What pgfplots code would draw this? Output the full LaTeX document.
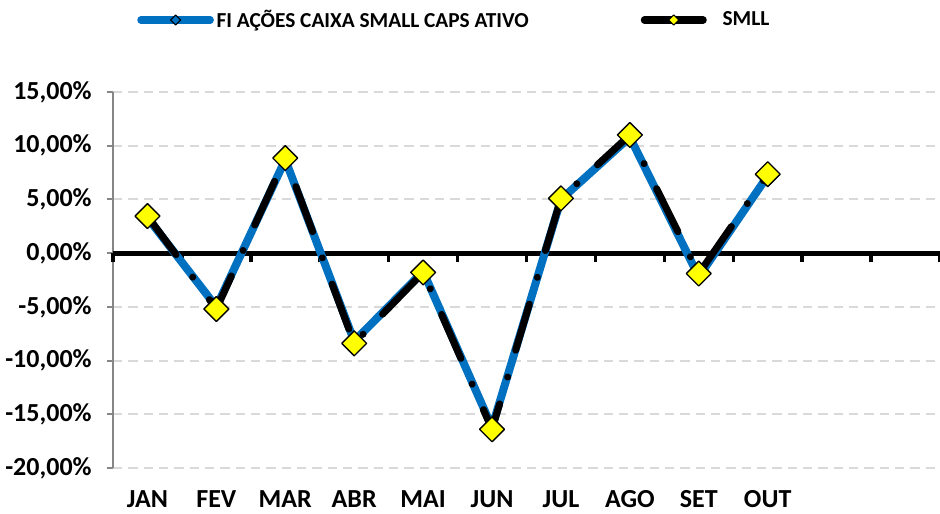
\documentclass[border=0pt]{standalone}
\usepackage{pgfplots}
\pgfplotsset{compat=1.18}
\usepackage{fontspec}
\setmainfont{Carlito}
\definecolor{fundblue}{RGB}{0,112,192}
\definecolor{gridgray}{RGB}{217,217,217}
\definecolor{axgray}{RGB}{134,134,134}
\definecolor{mkyellow}{RGB}{255,255,0}

\begin{document}
\begin{tikzpicture}
\begin{axis}[
  at={(0,0)}, anchor=south west,
  scale only axis, width=620.25pt, height=282pt,
  xmin=-0.5, xmax=11.5, ymin=-20, ymax=15,
  axis y line*=left, axis x line*=bottom,
  x axis line style={draw=none},
  xtick={0,...,9},
  xticklabels={JAN,FEV,MAR,ABR,MAI,JUN,JUL,AGO,SET,OUT},
  x tick style={draw=none},
  xticklabel style={inner sep=0pt, yshift=-12.5pt},
  ytick={-20,-15,...,15},
  yticklabels={{-20,00\%},{-15,00\%},{-10,00\%},{-5,00\%},{0,00\%},{5,00\%},{10,00\%},{15,00\%}},
  yticklabel style={xshift=-8pt},
  ymajorgrids,
  grid style={gridgray, line width=1.5pt, dash pattern=on 7pt off 4.5pt},
  y axis line style={axgray, line width=1.5pt},
  y tick style={axgray, line width=1.5pt},
  tick align=outside, major tick length=4.5pt,
  tick label style={font=\fontsize{19.5}{22}\selectfont\bfseries},
  clip=false,
  legend columns=2,
  legend style={at={(0.029,1.1915)}, anchor=west, draw=none, fill=none,
    inner sep=0pt, font=\fontsize{16}{19}\selectfont\bfseries,
    /tikz/every even column/.append style={column sep=82pt}},
]
% zero line and its ticks
\addplot[black, line width=3.75pt, forget plot] coordinates {(-0.5,0) (11.5,0)};
\addplot[black, line width=2.6pt, forget plot, unbounded coords=jump] coordinates {
(-0.5,0) (-0.5,-0.8) (-0.5,nan)
(0.5,0) (0.5,-0.8) (0.5,nan)
(1.5,0) (1.5,-0.8) (1.5,nan)
(2.5,0) (2.5,-0.8) (2.5,nan)
(3.5,0) (3.5,-0.8) (3.5,nan)
(4.5,0) (4.5,-0.8) (4.5,nan)
(5.5,0) (5.5,-0.8) (5.5,nan)
(6.5,0) (6.5,-0.8) (6.5,nan)
(7.5,0) (7.5,-0.8) (7.5,nan)
(8.5,0) (8.5,-0.8) (8.5,nan)
(9.5,0) (9.5,-0.8) (9.5,nan)
(10.5,0) (10.5,-0.8) (10.5,nan)
(11.5,0) (11.5,-0.8)
};
% FI ACOES CAIXA SMALL CAPS ATIVO
\addplot[fundblue, line width=6pt, line join=round, line cap=round,
  mark=square, mark size=3.5pt,
  mark options={solid, draw=black, line width=0.8pt, rotate=45},
  legend image code/.code={
    \draw[solid, fundblue, line width=5.5pt, line cap=round] (0pt,0pt) -- (52pt,0pt);
    \draw[solid, black, line width=0.8pt, fill=fundblue] (26pt,3.8pt) -- (29.8pt,0pt) -- (26pt,-3.8pt) -- (22.2pt,0pt) -- cycle;
  }] coordinates {
(0,3.3) (1,-5.0) (2,8.7) (3,-8.2) (4,-1.7) (5,-16.2) (6,5.0) (7,10.8) (8,-2.2) (9,7.2)
};
\addlegendentry{FI AÇÕES CAIXA SMALL CAPS ATIVO}
% SMLL
\addplot[black, line width=5.25pt, line join=round, line cap=round,
  dash pattern=on 36pt off 21pt on 0.01pt off 21pt,
  mark=square*, mark size=6.6pt,
  mark options={solid, fill=mkyellow, draw=black, line width=1pt, rotate=45},
  legend image code/.code={
    \draw[solid, black, line width=5.5pt, line cap=round] (0pt,0pt) -- (44pt,0pt);
    \draw[solid, black, line width=0.8pt, fill=mkyellow] (22pt,3.8pt) -- (25.8pt,0pt) -- (22pt,-3.8pt) -- (18.2pt,0pt) -- cycle;
    \path (54pt,0pt);
  }] coordinates {
(0,3.45) (1,-5.2) (2,8.85) (3,-8.4) (4,-1.8) (5,-16.4) (6,5.1) (7,11.0) (8,-1.9) (9,7.35)
};
\addlegendentry{SMLL}
\end{axis}
\pgfresetboundingbox
\useasboundingbox (-84.75pt,-34.5pt) rectangle (620.25pt,351pt);
\end{tikzpicture}
\end{document}
